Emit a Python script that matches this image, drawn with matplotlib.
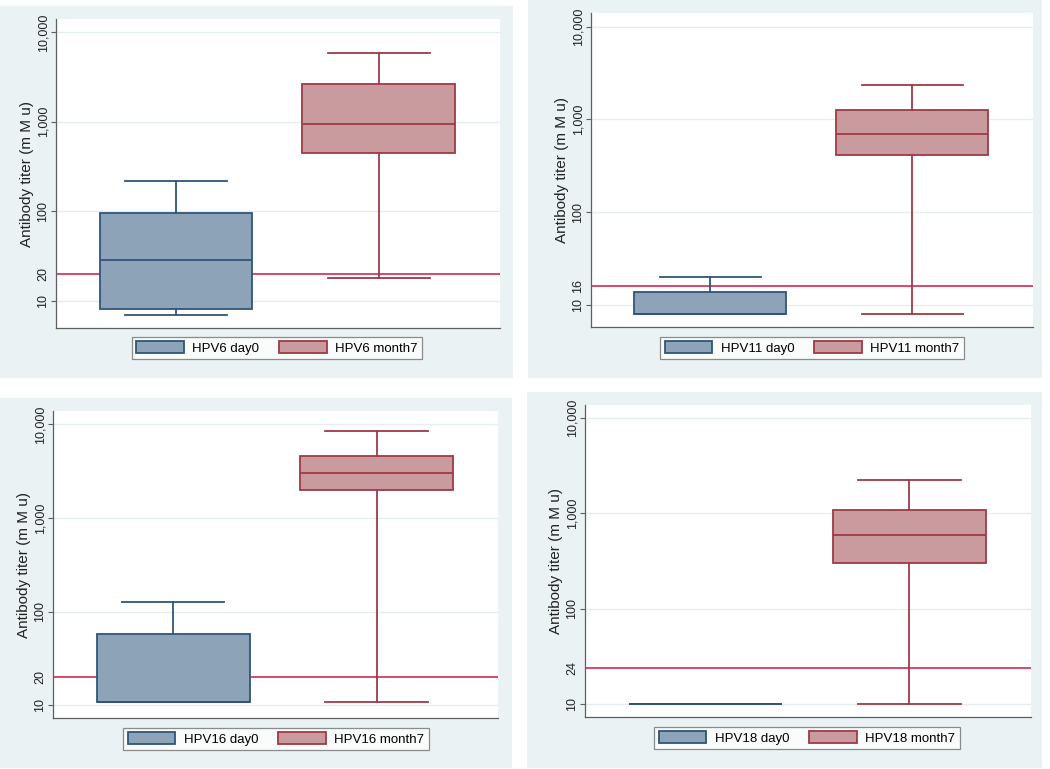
import numpy as np
import matplotlib
matplotlib.use("Agg")
import matplotlib.pyplot as plt
from matplotlib.patches import Rectangle, Patch
from matplotlib.ticker import FixedLocator, FixedFormatter

plt.rcParams['font.family'] = ['Liberation Sans', 'DejaVu Sans']

W, H = 1050, 769

# values (q1, median, q3, lower whisker, upper whisker)
types = ["HPV6", "HPV11", "HPV16", "HPV18"]
day0_stats = [
    [8.0, 28.2, 96, 7.0, 219],
    [8.0, 8.0, 13.95, 8.0, 20],
    [10.9, 10.9, 58.6, 10.9, 127],
    [10, 10, 10, 10, 10],
]
month7_stats = [
    [444, 943, 2643, 17.9, 5916],
    [419, 706, 1251, 8.0, 2350],
    [1977, 3005, 4620, 10.9, 8490],
    [304, 593, 1075, 10, 2218],
]
cutoffs = [20, 16, 20, 24]
ylims = [(4.95, 14100), (5.8, 14050), (7.35, 13870), (7.3, 13690)]
major_ticks = [10, 100, 1000, 10000]
major_labels = ["10", "100", "1,000", "10,000"]

# pixel layout: panel background, plot area, legend centre
panel_px = [(0, 6, 513, 378), (528, 0, 1042, 378), (0, 398, 512, 768), (527, 392, 1042, 768)]
plot_px = [(56, 19, 500, 328), (591, 13, 1033, 327), (53, 411, 498, 718), (585, 405, 1031, 717)]
legend_px = [(277, 348), (812, 348), (276, 739), (807, 738)]

bg = '#EAF2F3'
d0_fill, d0_edge = '#8CA3B8', '#2F5579'
m7_fill, m7_edge = '#C99A9E', '#9E3A45'
ref_col = '#D9466B'
axis_col = '#5F5F5F'
txt_col = '#222222'


def fig_rect(x0, y0, x1, y1):
    return [x0 / W, 1 - y1 / H, (x1 - x0) / W, (y1 - y0) / H]


fig = plt.figure(figsize=(W / 100, H / 100), dpi=100)
fig.patch.set_facecolor('white')

for i, name in enumerate(types):
    r = fig_rect(*panel_px[i])
    fig.patches.append(Rectangle((r[0], r[1]), r[2], r[3], transform=fig.transFigure,
                                 facecolor=bg, edgecolor='none', zorder=-10))

    ax = fig.add_axes(fig_rect(*plot_px[i]))
    ax.set_yscale('log')
    ax.set_ylim(*ylims[i])
    ax.set_xlim(0.409, 2.597)

    stats = []
    for s, lab in zip([day0_stats[i], month7_stats[i]], ["day0", "month7"]):
        q1, med, q3, lo, hi = s
        stats.append(dict(q1=q1, med=med, q3=q3, whislo=lo, whishi=hi, fliers=[], label=lab))

    bp = ax.bxp(stats, positions=[1, 2], widths=0.753, capwidths=0.503,
                patch_artist=True, showfliers=False, manage_ticks=False)
    for j, (fc, ec) in enumerate([(d0_fill, d0_edge), (m7_fill, m7_edge)]):
        bp['boxes'][j].set(facecolor=fc, edgecolor=ec, linewidth=1.3, zorder=3)
        bp['medians'][j].set(color=ec, linewidth=1.3, zorder=4)
        for k in (2 * j, 2 * j + 1):
            bp['whiskers'][k].set(color=ec, linewidth=1.3, zorder=3)
            bp['caps'][k].set(color=ec, linewidth=1.3, zorder=3)

    ax.axhline(cutoffs[i], color=ref_col, linewidth=1.4, zorder=2)

    # major ticks with gridlines, cutoff labelled without a tick mark
    ax.yaxis.set_major_locator(FixedLocator(major_ticks))
    ax.yaxis.set_major_formatter(FixedFormatter(major_labels))
    ax.yaxis.set_minor_locator(FixedLocator([cutoffs[i]]))
    ax.yaxis.set_minor_formatter(FixedFormatter([str(cutoffs[i])]))
    ax.tick_params(axis='y', which='major', length=3.6, width=0.8, color=axis_col,
                   labelsize=9, pad=1.2, labelcolor=txt_col, labelrotation=90)
    ax.tick_params(axis='y', which='minor', length=0, labelsize=9, pad=4.8,
                   labelcolor=txt_col, labelrotation=90)
    for lbl in ax.get_yticklabels(which='both'):
        lbl.set_va('center')

    ax.grid(axis='y', which='major', color='#E4EEF0', linewidth=1.0, zorder=0)
    ax.set_axisbelow(True)
    ax.set_xticks([])
    for sp in ['top', 'right']:
        ax.spines[sp].set_visible(False)
    for sp in ['left', 'bottom']:
        ax.spines[sp].set_color(axis_col)
        ax.spines[sp].set_linewidth(0.9)

    ax.set_ylabel("Antibody titer (m M u)", fontsize=11, color=txt_col, labelpad=2.5)

    handles = [Patch(facecolor=d0_fill, edgecolor=d0_edge, linewidth=1.3, label=name + " day0"),
               Patch(facecolor=m7_fill, edgecolor=m7_edge, linewidth=1.3, label=name + " month7")]
    cx, cy = legend_px[i]
    leg = fig.legend(handles=handles, loc='center', bbox_to_anchor=(cx / W, 1 - cy / H),
                     ncol=2, fontsize=9.5, frameon=True, fancybox=False,
                     handlelength=3.6, handleheight=1.0, handletextpad=0.65,
                     columnspacing=1.5, borderpad=0.35, borderaxespad=0)
    leg.get_frame().set_edgecolor('#707070')
    leg.get_frame().set_linewidth(0.9)

fig.savefig("out.png", dpi=100, facecolor='white')
